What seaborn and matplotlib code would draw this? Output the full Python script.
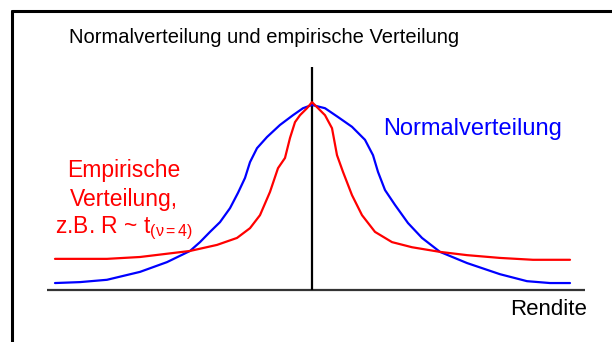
import matplotlib
matplotlib.use("Agg")
import matplotlib.pyplot as plt
import seaborn as sns
from matplotlib.lines import Line2D

# --- data (x = Rendite, y = Dichte) ---
rendite_normal = [-5.14, -4.64, -4.10, -3.44, -2.90, -2.44, -2.24, -2.04, -1.84, -1.64,
                  -1.48, -1.34, -1.24, -1.10, -0.90, -0.64, -0.38, -0.18, 0.00, 0.26,
                  0.52, 0.80, 1.06, 1.22, 1.32, 1.46, 1.66, 1.92, 2.20, 2.56,
                  3.10, 3.76, 4.30, 4.76, 5.16]
dichte_normal = [0.015, 0.017, 0.022, 0.039, 0.060, 0.084, 0.103, 0.125, 0.146, 0.176,
                 0.209, 0.241, 0.275, 0.305, 0.329, 0.355, 0.376, 0.391, 0.398, 0.391,
                 0.372, 0.351, 0.323, 0.290, 0.254, 0.215, 0.183, 0.144, 0.112, 0.082,
                 0.058, 0.034, 0.019, 0.015, 0.015]

rendite_emp = [-5.14, -4.10, -3.44, -2.44, -1.90, -1.50, -1.24, -1.04, -0.84, -0.68,
               -0.54, -0.44, -0.34, -0.24, -0.10, 0.00, 0.26, 0.40, 0.50, 0.62,
               0.80, 1.00, 1.26, 1.60, 2.00, 2.56, 3.10, 3.76, 4.42, 5.16]
dichte_emp = [0.067, 0.067, 0.071, 0.084, 0.097, 0.112, 0.133, 0.161, 0.211, 0.262,
              0.284, 0.327, 0.361, 0.376, 0.391, 0.404, 0.376, 0.348, 0.290, 0.254,
              0.204, 0.161, 0.125, 0.103, 0.092, 0.082, 0.075, 0.069, 0.065, 0.065]

X_AXIS_RANGE = (-5.30, 5.46)
Y_AXIS_TOP = 0.48

BLUE = "#0000FF"
RED = "#FF0000"

sns.set_theme(style="white")
plt.rcParams["font.family"] = ["Liberation Sans", "DejaVu Sans"]
plt.rcParams["mathtext.fontset"] = "custom"
plt.rcParams["mathtext.rm"] = "Liberation Sans"
plt.rcParams["mathtext.it"] = "Liberation Sans"

W, H = 612, 342
fig = plt.figure(figsize=(W / 100, H / 100), dpi=100)
fig.patch.set_facecolor("white")

ax = fig.add_axes([0, 0, 1, 1])
ax.set_xlim(-6.24, 6.0)
ax.set_ylim(-0.1118, 0.6237)
ax.axis("off")

# axes cross
ax.hlines(0, *X_AXIS_RANGE, color="#333333", linewidth=1.6)
ax.vlines(0, 0, Y_AXIS_TOP, color="black", linewidth=1.6)

sns.lineplot(x=rendite_normal, y=dichte_normal, ax=ax, color=BLUE,
             linewidth=1.6, sort=False, estimator=None,
             solid_joinstyle="round", solid_capstyle="round")
sns.lineplot(x=rendite_emp, y=dichte_emp, ax=ax, color=RED,
             linewidth=1.6, sort=False, estimator=None,
             solid_joinstyle="round", solid_capstyle="round")


def px(x, y):
    return x / W, 1 - y / H


# frame (only left and top edges visible in the original)
fig.add_artist(Line2D([12 / W, 12 / W], [0, 1 - 11 / H], color="black",
                      linewidth=2.2, transform=fig.transFigure))
fig.add_artist(Line2D([12 / W, 1], [1 - 11 / H, 1 - 11 / H], color="black",
                      linewidth=2.2, transform=fig.transFigure))

fig.text(*px(264, 43), "Normalverteilung und empirische Verteilung",
         fontsize=14.5, ha="center", va="baseline", color="black")
fig.text(*px(473, 135), "Normalverteilung", fontsize=17, ha="center",
         va="baseline", color=BLUE)
fig.text(*px(549, 315), "Rendite", fontsize=16, ha="center", va="baseline",
         color="black")

fig.text(*px(124, 177), "Empirische", fontsize=16.5, ha="center",
         va="baseline", color=RED)
fig.text(*px(124, 206), "Verteilung,", fontsize=16.5, ha="center",
         va="baseline", color=RED)
fig.text(*px(124, 233), r"z.B. R ~ t$_{(\nu=4)}$", fontsize=16.5,
         ha="center", va="baseline", color=RED)

fig.savefig("out.png", dpi=100, facecolor="white")
